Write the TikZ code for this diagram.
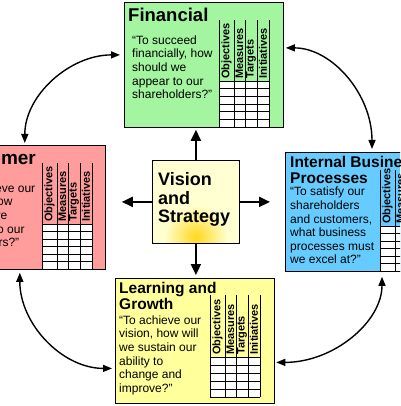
\documentclass[tikz,border=0pt]{standalone}
\usepackage{fontspec}
\setmainfont{Liberation Sans}
\usetikzlibrary{arrows.meta,calc}
\definecolor{bscgreen}{HTML}{A3F5A0}
\definecolor{bscpink}{HTML}{FF9C9C}
\definecolor{bscblue}{HTML}{66CCFF}
\definecolor{bscyellow}{HTML}{FFFF9C}
\definecolor{bsccream}{HTML}{FFFFD2}
\definecolor{bscglow}{HTML}{FFD81E}

\begin{document}
\begin{tikzpicture}[
  x=1pt, y=-1pt,
  box/.style={draw=black, line width=0.8pt, inner sep=0pt, anchor=north west},
  ttl/.style={font=\fontsize{15.5}{16}\selectfont\bfseries, align=left, inner sep=0pt, anchor=north west},
  qtext/.style={font=\fontsize{12}{13.6}\selectfont, align=left, inner sep=0pt, anchor=north west},
  hdr/.style={font=\fontsize{11}{11}\selectfont\bfseries, rotate=90, anchor=west, inner sep=0pt},
  cell/.style={draw=black, line width=0.6pt},
  bigarr/.style={-{Triangle[length=11pt,width=10pt]}, line width=2pt},
  dblarr/.style={{Triangle[length=9pt,width=7pt]}-{Triangle[length=9pt,width=7pt]}, line width=1.4pt}
]
\useasboundingbox (0,0) rectangle (400,406);
\clip (0,0) rectangle (400,406);
\fill[white] (0,0) rectangle (400,406);

% perspective boxes
\node[box, fill=bscgreen, minimum width=159pt, minimum height=125pt] (fin) at (124,2) {};
\node[box, fill=bscpink, minimum width=162pt, minimum height=124pt] (cus) at (-57,145) {};
\node[box, fill=bscblue, minimum width=160pt, minimum height=119pt] (ibp) at (285,152) {};
\node[box, fill=bscyellow, minimum width=159pt, minimum height=125pt] (lrn) at (115,278) {};
\node[box, fill=bsccream, minimum width=87pt, minimum height=83pt] (vis) at (152,160) {};

\begin{scope}
  \clip (vis.south west) rectangle (vis.north east);
  \shade[inner color=bscglow, outer color=bsccream] ($(vis.south)+(0,-7)$) circle (32);
\end{scope}
\draw[line width=0.8pt] (vis.south west) rectangle (vis.north east);

% objective / measure / target / initiative grids
\foreach \tx/\hy/\cy/\nr/\rh in {219/20/81/6/7.67, 42/163/224/6/7.5, 380/170/226/6/7.5, 210/295/357/5/8}{
  \fill[white] (\tx,\cy) rectangle ++(50,\nr*\rh);
  \foreach \r in {0,...,\nr} \draw[cell] (\tx,\cy+\r*\rh) -- ++(50,0);
  \foreach \o in {0,15,26,38,50} \draw[cell] (\tx+\o,\hy) -- (\tx+\o,\cy+\nr*\rh);
  \foreach \lbl/\c [count=\k] in {Objectives/7.5, Measures/20.5, Targets/32, Initiatives/44}
    \node[hdr] (hd-\tx-\k) at (\tx+\c,\cy-2) {\lbl};
}

\node[ttl, font=\fontsize{18.5}{19}\selectfont\bfseries] (fint) at ($(fin.north west)+(4,5.5)$) {Financial};
\node[qtext] (finq) at ($(fin.north west)+(8,33.5)$) {“To succeed\\financially, how\\should we\\appear to our\\shareholders?”};

\node[ttl, font=\fontsize{19}{19}\selectfont\bfseries] (cust) at ($(cus.north west)+(4,6.5)$) {Customer};
\node[qtext] (cusq) at ($(cus.north west)+(10,38.5)$) {“To achieve our\\vision, how\\should we\\appear to our\\customers?”};

\node[ttl] (ibpt) at ($(ibp.north west)+(5,4)$) {Internal Business\\Processes};
\node[qtext] (ibpq) at ($(ibp.north west)+(5,35)$) {“To satisfy our\\shareholders\\and customers,\\what business\\processes must\\we excel at?”};

\node[ttl] (lrnt) at ($(lrn.north west)+(4,4)$) {Learning and\\Growth};
\node[qtext] (lrnq) at ($(lrn.north west)+(4,37.5)$) {“To achieve our\\vision, how will\\we sustain our\\ability to\\change and\\improve?”};

\node[ttl, font=\fontsize{18}{18.6}\selectfont\bfseries] (vist) at ($(vis.north west)+(6,12.5)$) {Vision\\and\\Strategy};

% vision to perspectives
\draw[bigarr, shorten >=2pt] (vis.north) -- (vis.north |- fin.south);
\draw[bigarr, shorten >=16pt] (vis.west) -- (vis.west -| cus.east);
\draw[bigarr, shorten >=15pt] (vis.east) -- (vis.east -| ibp.west);
\draw[bigarr, shorten >=3pt] (vis.south) -- (vis.south |- lrn.north);

% links round the circle
\draw[dblarr, shorten <=4pt, shorten >=2pt] ($(fin.west)+(0,-10)$) .. controls +(-54,0) and +(0,-50) .. ($(cus.north east)+(-81,0)$);
\draw[dblarr, shorten <=2pt, shorten >=3pt] ($(fin.east)+(0,-17)$) .. controls +(48,0) and +(0,-58) .. ($(ibp.north west)+(87,0)$);
\draw[dblarr, shorten <=3pt, shorten >=3pt] ($(cus.south east)+(-86,0)$) .. controls +(0,54) and +(-53,0) .. ($(lrn.west)+(0,27.5)$);
\draw[dblarr, shorten <=5pt, shorten >=1.5pt] ($(ibp.south west)+(97,0)$) .. controls +(0,50) and +(59,0) .. ($(lrn.east)+(0,21.5)$);
\end{tikzpicture}
\end{document}
